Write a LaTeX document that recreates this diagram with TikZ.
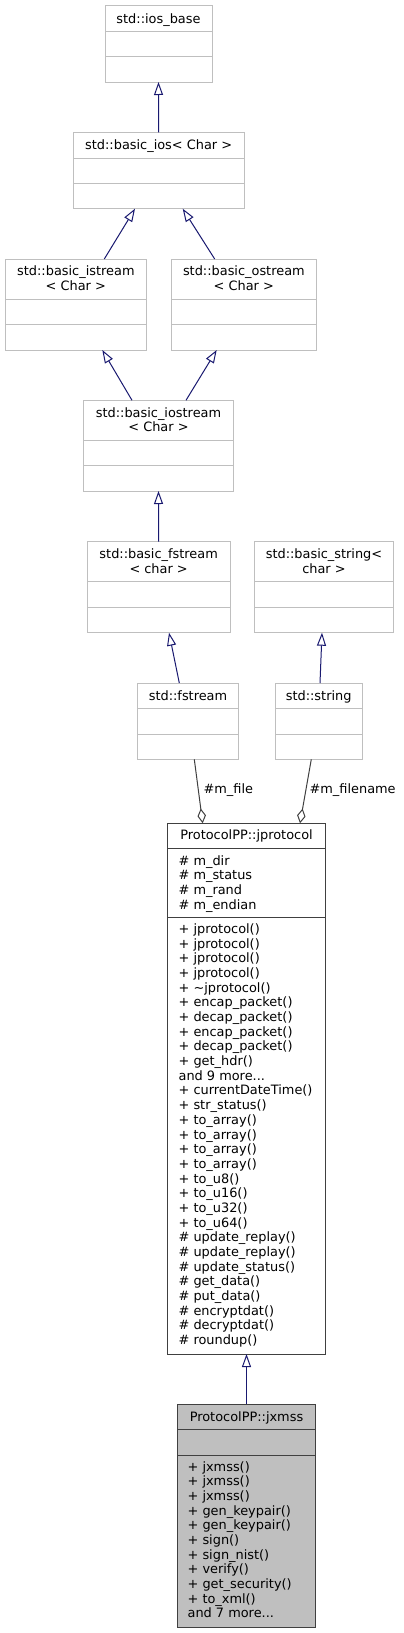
\documentclass[tikz,border=0pt]{standalone}
\usepackage{fontspec}
\setmainfont{DejaVu Sans}
\usetikzlibrary{arrows.meta}
\definecolor{stdgray}{HTML}{BFBFBF}
\definecolor{darkline}{HTML}{404040}
\definecolor{inhblue}{HTML}{191970}
\newcommand\threedots{...}
\newcommand\classbox[9]{%
  \path[#8] (#2,#3) rectangle (#4,#5);
  \node[anchor=north west, minimum width={(#4-#2)*1pt}, minimum height={(#5-#3)*1pt}] (#1) at (#2,#3) {};
  \draw[#9, line width=1pt] (#2,#6) -- (#4,#6) (#2,#7) -- (#4,#7);
}
\begin{document}
\begin{tikzpicture}[x=1pt,y=-1pt,
  every node/.style={inner sep=0pt, outer sep=0pt, font=\fontsize{12.9}{14.68}\selectfont},
  stdbox/.style={draw=stdgray, fill=white, line width=1pt},
  mainbox/.style={draw=darkline, fill=white, line width=1pt},
  hlbox/.style={draw=darkline, fill=stdgray, line width=1pt},
  title/.style={anchor=base},
  member/.style={anchor=base west},
  inh/.style={draw=inhblue, line width=1pt, -{Triangle[open, width=9pt, length=13pt]}},
  agg/.style={draw=darkline, line width=1pt, -{Diamond[open, width=8.5pt, length=15pt]}},
  elabel/.style={anchor=west}
]
\useasboundingbox (0,0) rectangle (404,1633);
\fill[white] (0,0) rectangle (404,1633);

% class boxes
\classbox{iosbase}{105}{5.7}{212}{82}{31.7}{56.7}{stdbox}{stdgray}
\classbox{bios}{73.3}{132.3}{244}{208.7}{158.3}{183}{stdbox}{stdgray}
\classbox{istr}{5}{259}{146.7}{350}{299.3}{324.7}{stdbox}{stdgray}
\classbox{ostr}{171}{259}{316.7}{350}{299.3}{324.7}{stdbox}{stdgray}
\classbox{iostr}{83.7}{400.3}{233.3}{491}{440.7}{465.7}{stdbox}{stdgray}
\classbox{bfstr}{87.3}{541.7}{230}{632.7}{581.7}{607}{stdbox}{stdgray}
\classbox{bstring}{254.7}{541.7}{393.3}{632.7}{581.7}{607}{stdbox}{stdgray}
\classbox{fstr}{137.3}{683}{238.7}{759.3}{708.7}{734}{stdbox}{stdgray}
\classbox{str}{275.3}{683}{362}{759.3}{708.7}{734}{stdbox}{stdgray}
\classbox{jprot}{167.7}{823.3}{325.3}{1354}{848.7}{917.7}{mainbox}{darkline}
\classbox{jxmss}{177.3}{1404.3}{315.7}{1627.3}{1429.7}{1455.7}{hlbox}{darkline}

% titles
\node[title] (t1) at (158.5,23) {std::ios\_base};
\node[title] (t2) at (158.65,149.8) {std::basic\_ios< Char >};
\node[title] (t3a) at (75.85,275.8) {std::basic\_istream};
\node[title] (t3b) at (75.85,290.5) {< Char >};
\node[title] (t4a) at (243.85,275.8) {std::basic\_ostream};
\node[title] (t4b) at (243.85,290.5) {< Char >};
\node[title] (t5a) at (158.5,417.1) {std::basic\_iostream};
\node[title] (t5b) at (158.5,431.8) {< Char >};
\node[title] (t6a) at (158.65,558.5) {std::basic\_fstream};
\node[title] (t6b) at (158.65,573.2) {< char >};
\node[title] (t7a) at (324,558.5) {std::basic\_string<};
\node[title] (t7b) at (324,573.2) {char >};
\node[title] (t8) at (188,700.3) {std::fstream};
\node[title] (t9) at (318.65,700.3) {std::string};
\node[title] (t10) at (246.5,839.6) {ProtocolPP::jprotocol};
\node[title] (t11) at (246.5,1421.3) {ProtocolPP::jxmss};

% members
\foreach \s [count=\i from 0] in {\# m\_dir,\# m\_status,\# m\_rand,\# m\_endian}
  \node[member] (a-\i) at (178.6,{865.2+14.68*\i}) {\s};
\foreach \s [count=\i from 0] in {+ jprotocol(),+ jprotocol(),+ jprotocol(),+ jprotocol(),+ \textasciitilde jprotocol(),+ encap\_packet(),+ decap\_packet(),+ encap\_packet(),+ decap\_packet(),+ get\_hdr(),and 9 more\threedots,+ currentDateTime(),+ str\_status(),+ to\_array(),+ to\_array(),+ to\_array(),+ to\_array(),+ to\_u8(),+ to\_u16(),+ to\_u32(),+ to\_u64(),\# update\_replay(),\# update\_replay(),\# update\_status(),\# get\_data(),\# put\_data(),\# encryptdat(),\# decryptdat(),\# roundup()}
  \node[member] (m-\i) at (178.6,{933.5+14.68*\i}) {\s};
\foreach \s [count=\i from 0] in {+ jxmss(),+ jxmss(),+ jxmss(),+ gen\_keypair(),+ gen\_keypair(),+ sign(),+ sign\_nist(),+ verify(),+ get\_security(),+ to\_xml(),and 7 more\threedots}
  \node[member] (x-\i) at (187.6,{1471+14.67*\i}) {\s};

% inheritance
\draw[inh] (bios.north) -- (iosbase.south);
\draw[inh] ([xshift=99.3pt]istr.north west) -- ([xshift=61.7pt]bios.south west);
\draw[inh] ([xshift=43.7pt]ostr.north west) -- ([xshift=109.4pt]bios.south west);
\draw[inh] ([xshift=48.3pt]iostr.north west) -- ([xshift=97.3pt]istr.south west);
\draw[inh] ([xshift=102.3pt]iostr.north west) -- ([xshift=45.7pt]ostr.south west);
\draw[inh] (bfstr.north) -- (iostr.south);
\draw[inh] ([xshift=42pt]fstr.north west) -- ([xshift=81.7pt]bfstr.south west);
\draw[inh] ([xshift=44.7pt]str.north west) -- ([xshift=67.3pt]bstring.south west);
\draw[inh] (jxmss.north) -- (jprot.south);

% aggregation
\draw[agg] ([xshift=57pt]fstr.south west) -- ([xshift=35pt]jprot.north west);
\draw[agg] ([xshift=36pt]str.south west) -- ([xshift=132.3pt]jprot.north west);
\node[elabel] (l1) at (203.6,790) {\#m\_file};
\node[elabel] (l2) at (309.6,790) {\#m\_filename};
\end{tikzpicture}
\end{document}
